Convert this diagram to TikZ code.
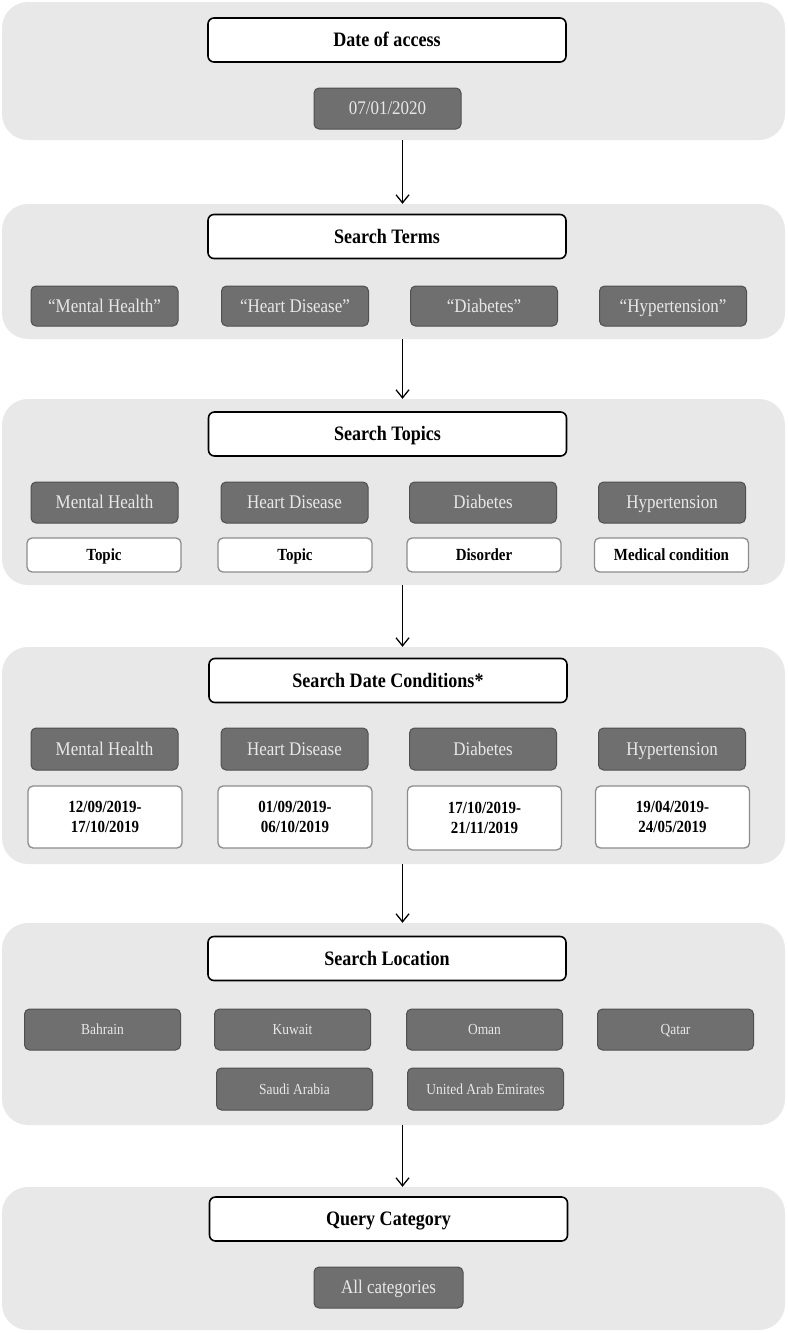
\documentclass[tikz,border=0pt]{standalone}
\usepackage{fontspec}
\setmainfont{Liberation Serif}[FakeStretch=0.88]
\usetikzlibrary{arrows.meta}
\definecolor{panelbg}{HTML}{E8E8E8}
\definecolor{boxgray}{HTML}{6F6F6F}
\definecolor{boxedge}{HTML}{505050}
\definecolor{boxtext}{HTML}{E8E8E8}
\definecolor{subedge}{HTML}{8C8C8C}
\tikzset{
  panel/.style={draw=none, fill=panelbg, rounded corners=26pt, inner sep=0pt},
  hdr/.style={draw=black, line width=1.6pt, fill=white, rounded corners=6pt,
    minimum width=358pt, minimum height=44pt, inner sep=0pt,
    text height=13.6pt, text depth=0pt,
    font=\fontsize{20.5}{22}\selectfont\bfseries},
  gbox/.style={draw=boxedge, line width=1pt, fill=boxgray, rounded corners=5pt,
    minimum width=147pt, minimum height=41pt, inner sep=0pt, text=boxtext,
    text height=12.8pt, text depth=0pt,
    font=\fontsize{19.3}{21}\selectfont},
  lbox/.style={gbox, minimum width=156pt, text height=10.1pt,
    font=\fontsize{15.3}{17}\selectfont},
  wbox/.style={draw=subedge, line width=1.3pt, fill=white, rounded corners=5pt,
    minimum width=154pt, minimum height=34pt, inner sep=0pt, align=center,
    font=\fontsize{17}{20}\selectfont\bfseries},
  tbox/.style={wbox, text height=11.5pt, text depth=0pt},
  arr/.style={draw=black, line width=1.3pt, -{Straight Barb[length=8pt,width=13pt,line width=1.3pt]}},
}
\begin{document}
\begin{tikzpicture}[x=1pt,y=-1pt]
\useasboundingbox (0,0) rectangle (787,1333);
% panels
\node[panel, minimum width=783pt, minimum height=138pt] (p1) at (393.5,71) {};
\node[panel, minimum width=783pt, minimum height=135pt] (p2) at (393.5,271.5) {};
\node[panel, minimum width=783pt, minimum height=186pt] (p3) at (393.5,492) {};
\node[panel, minimum width=783pt, minimum height=217pt] (p4) at (393.5,755.5) {};
\node[panel, minimum width=783pt, minimum height=202pt] (p5) at (393.5,1024) {};
\node[panel, minimum width=783pt, minimum height=143pt] (p6) at (393.5,1258.5) {};
\coordinate (ax) at (402.5,0);
% panel 1
\node[hdr] (h1) at (387,40) {Date of access};
\node[gbox] (d1) at (387.5,108.5) {07/01/2020};
% panel 2
\node[hdr] (h2) at (387,236.5) {Search Terms};
\node[gbox, minimum height=40pt] (t1) at (104.5,306) {“Mental Health”};
\node[gbox, minimum height=40pt] (t2) at (295,306) {“Heart Disease”};
\node[gbox, minimum height=40pt] (t3) at (484,306) {“Diabetes”};
\node[gbox, minimum height=40pt] (t4) at (673,306) {“Hypertension”};
% panel 3
\node[hdr] (h3) at (387.5,434) {Search Topics};
\node[gbox] (s1) at (104.5,502.5) {Mental Health};
\node[gbox] (s2) at (294.5,502.5) {Heart Disease};
\node[gbox] (s3) at (483,502.5) {Diabetes};
\node[gbox] (s4) at (672,502.5) {Hypertension};
\node[tbox] (w1) at (104,555) {Topic};
\node[tbox] (w2) at (295,555) {Topic};
\node[tbox] (w3) at (484,555) {Disorder};
\node[tbox] (w4) at (671.5,555) {Medical condition};
% panel 4
\node[hdr] (h4) at (388,680.5) {Search Date Conditions*};
\node[gbox, minimum height=42pt] (c1) at (104.5,749) {Mental Health};
\node[gbox, minimum height=42pt] (c2) at (294.5,749) {Heart Disease};
\node[gbox, minimum height=42pt] (c3) at (483,749) {Diabetes};
\node[gbox, minimum height=42pt] (c4) at (672,749) {Hypertension};
\node[wbox, minimum height=62pt] (r1) at (105,817) {12/09/2019-\\17/10/2019};
\node[wbox, minimum height=62pt] (r2) at (295,817) {01/09/2019-\\06/10/2019};
\node[wbox, minimum height=64pt] (r3) at (484.5,818) {17/10/2019-\\21/11/2019};
\node[wbox, minimum height=62pt] (r4) at (672.5,817) {19/04/2019-\\24/05/2019};
% panel 5
\node[hdr] (h5) at (387,958.5) {Search Location};
\node[lbox] (l1) at (102.5,1029.5) {Bahrain};
\node[lbox] (l2) at (292.5,1029.5) {Kuwait};
\node[lbox] (l3) at (484.5,1029.5) {Oman};
\node[lbox] (l4) at (675.5,1029.5) {Qatar};
\node[lbox, minimum height=42pt] (l5) at (294.5,1089) {Saudi Arabia};
\node[lbox, minimum height=42pt] (l6) at (485.5,1089) {United Arab Emirates};
% panel 6
\node[hdr] (h6) at (388.5,1219) {Query Category};
\node[gbox, minimum width=149pt] (q1) at (388.5,1287.5) {All categories};
% arrows
\draw[arr] (p1.south -| ax) -- (p2.north -| ax);
\draw[arr] (p2.south -| ax) -- (p3.north -| ax);
\draw[arr] (p3.south -| ax) -- (p4.north -| ax);
\draw[arr] (p4.south -| ax) -- (p5.north -| ax);
\draw[arr] (p5.south -| ax) -- (p6.north -| ax);
\end{tikzpicture}
\end{document}
